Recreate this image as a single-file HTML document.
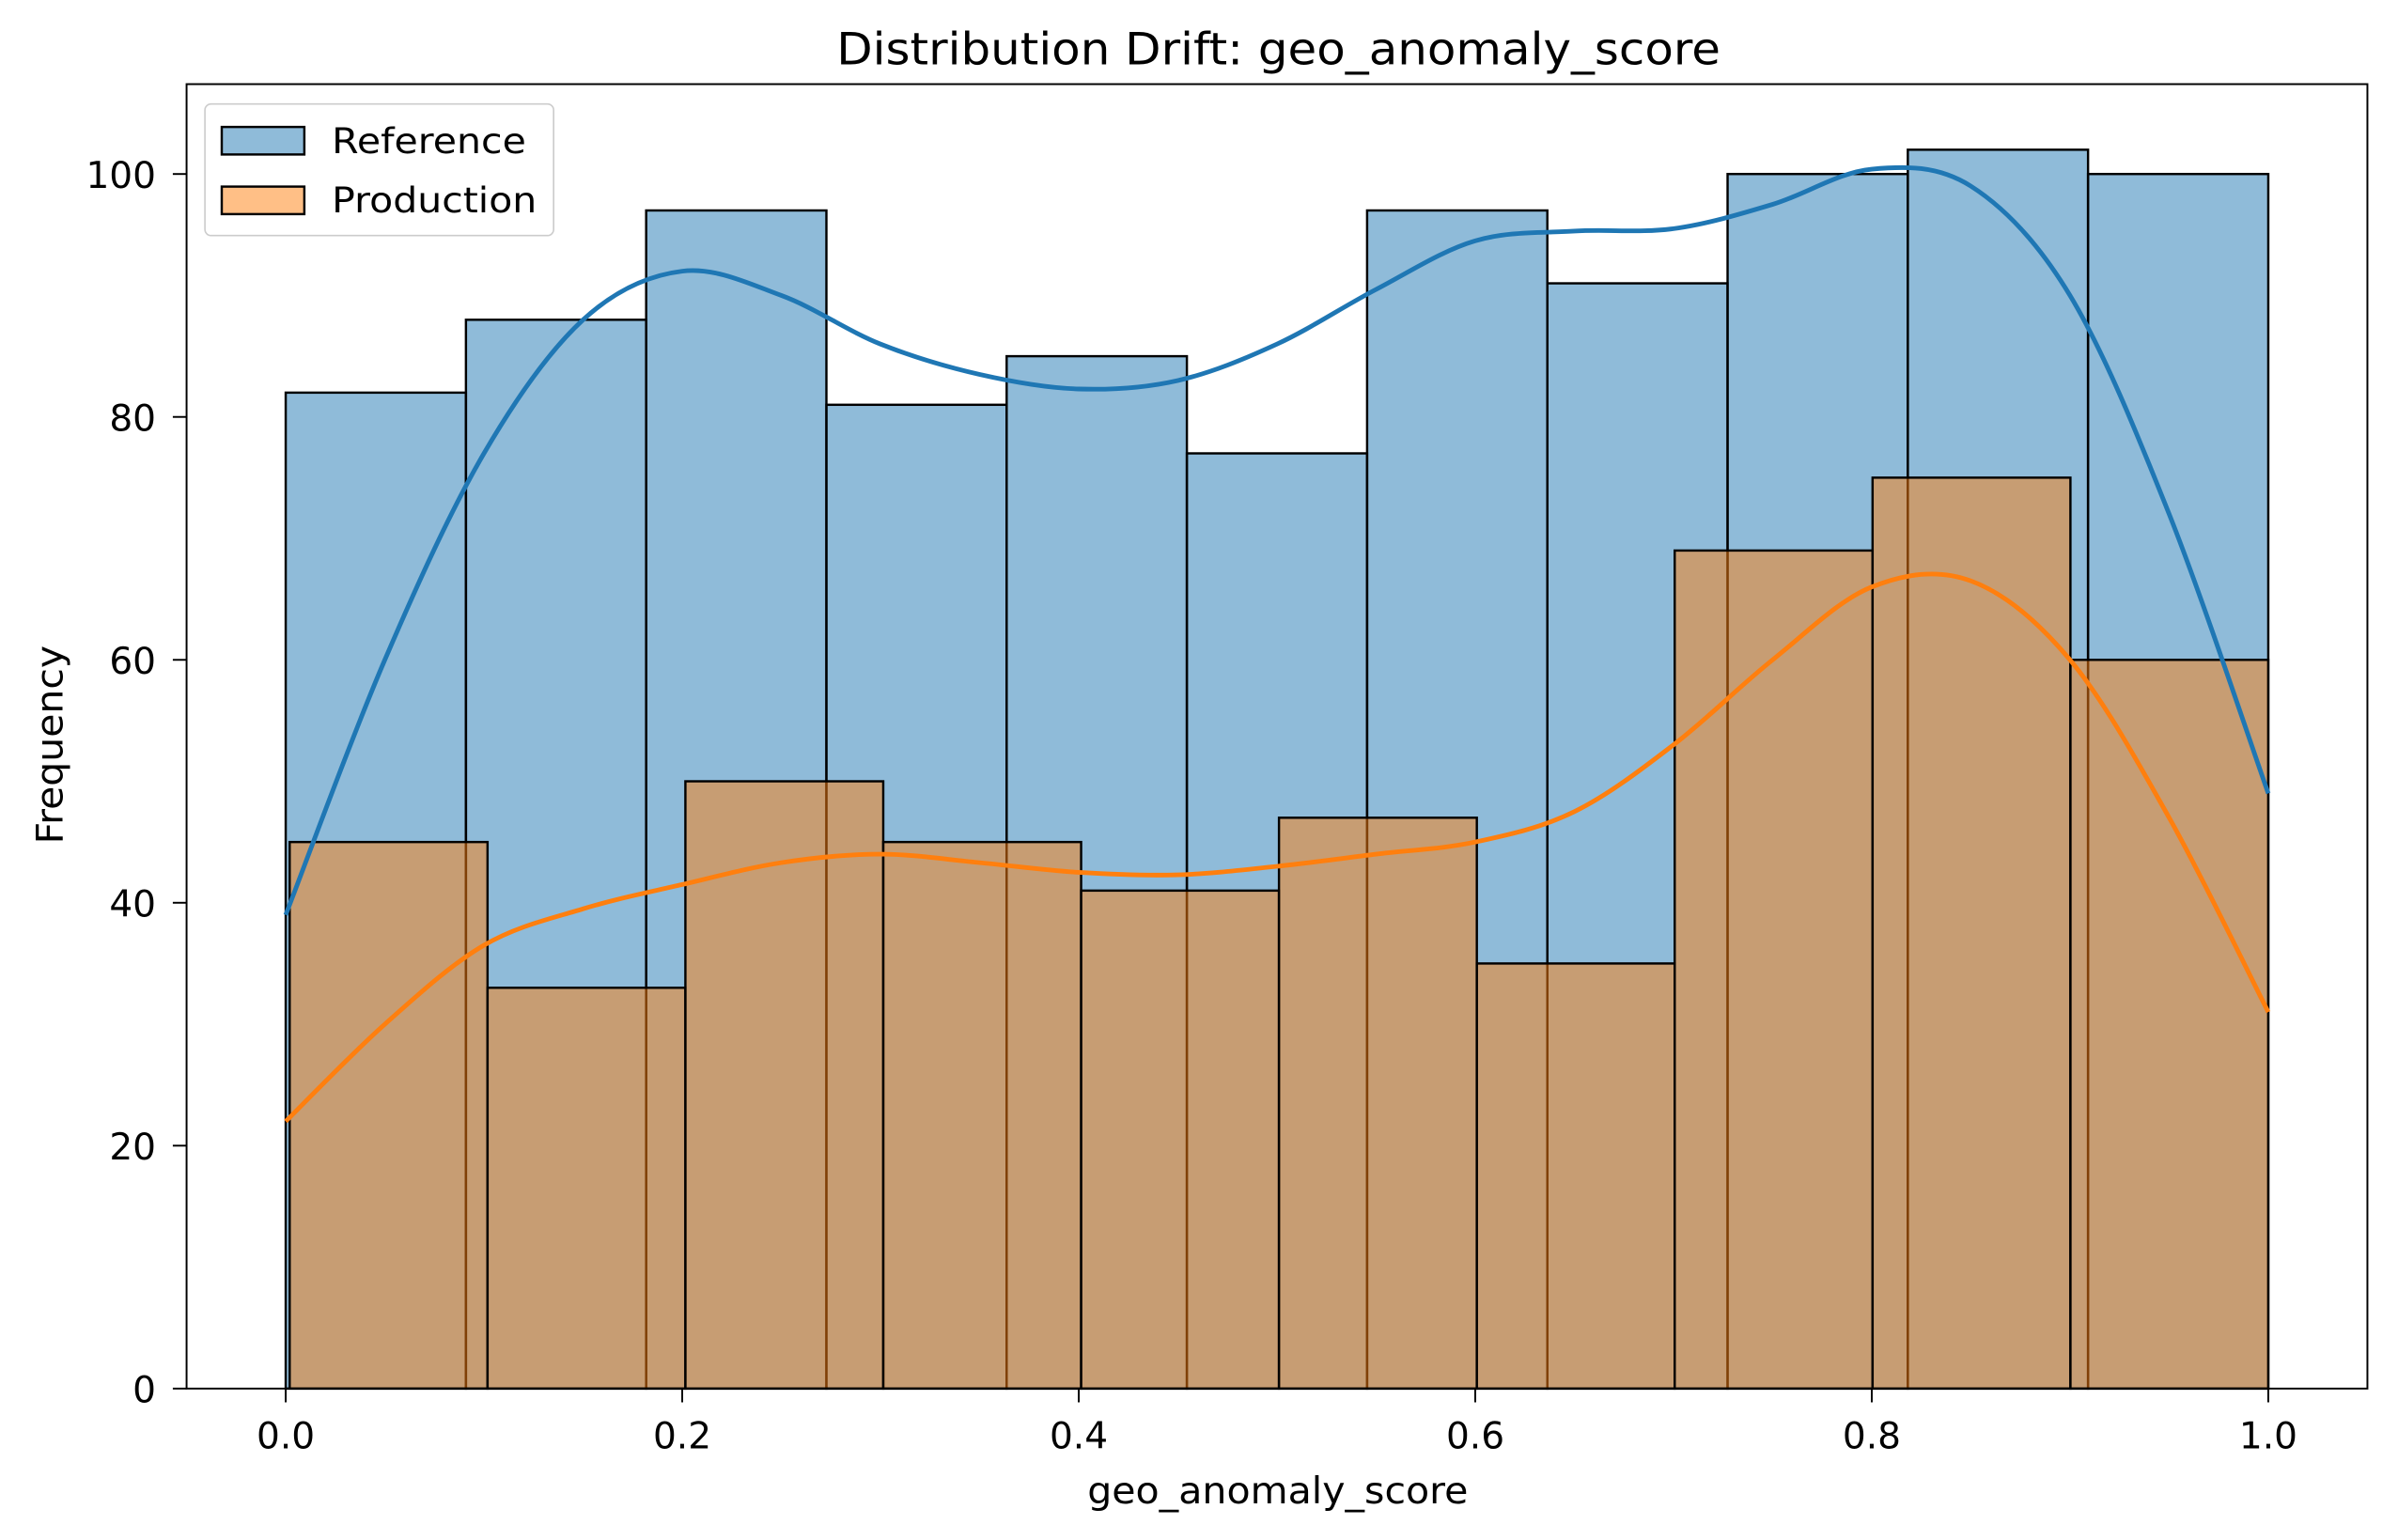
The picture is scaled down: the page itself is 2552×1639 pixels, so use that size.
<!DOCTYPE html>
<html><head><meta charset="utf-8"><style>
html,body{margin:0;padding:0;background:#fff;}
svg{display:block;font-family:"DejaVu Sans","Liberation Sans",sans-serif;}
</style></head><body>
<svg id="chart" width="2552" height="1639" viewBox="0 0 1568 1007" xmlns="http://www.w3.org/2000/svg">
<rect width="1568" height="1007" fill="#fff"/>
<g id="marks"></g>
<g id="axes"></g>
</svg>
<script>
const refCounts=[82,88,97,81,85,77,97,91,100,102,100];
const prodCounts=[45,33,50,45,41,47,35,69,75,60];
const prodStart=0.002, prodEnd=1.0;
const kdeX=[0,0.05,0.1,0.15,0.2,0.25,0.3,0.35,0.4,0.45,0.5,0.55,0.6,0.65,0.7,0.75,0.8,0.85,0.9,0.95,1.0];
const refKde=[39,60,77,88,92,90,86,83.5,82.3,83,86,90.5,94.5,95.3,95.5,97.5,100.4,99,90,72,49];
const prodKde=[22,30,36.5,39.5,41.5,43.3,44,43.3,42.5,42.3,43,44,45,47.5,53,60,66,66.5,60,47,31];
const xTicks=[0,0.2,0.4,0.6,0.8,1.0];
const xTickLabels=["0.0","0.2","0.4","0.6","0.8","1.0"];
const yTicks=[0,20,40,60,80,100];

const L=122,R=1548,T=55,B=908;
const xmin=-0.05,xmax=1.05,ymin=0,ymax=107.4;
const sx=v=>L+(v-xmin)/(xmax-xmin)*(R-L);
const sy=v=>B-(v-ymin)/(ymax-ymin)*(B-T);
const NS="http://www.w3.org/2000/svg";
const marks=document.getElementById('marks'),axes=document.getElementById('axes');
function mk(tag,attrs,parent){const e=document.createElementNS(NS,tag);for(const k in attrs)e.setAttribute(k,attrs[k]);parent.appendChild(e);return e;}

const rw=1/refCounts.length;
refCounts.forEach((c,i)=>{
 const r=mk('rect',{x:sx(i*rw),y:sy(c),width:sx((i+1)*rw)-sx(i*rw),height:sy(0)-sy(c),fill:'#1f77b4','fill-opacity':0.5,stroke:'#000','stroke-width':1.5},marks);
 
 
});
const pw=(prodEnd-prodStart)/prodCounts.length;
prodCounts.forEach((c,i)=>{
 const x0=prodStart+i*pw;
 const r=mk('rect',{x:sx(x0),y:sy(c),width:sx(x0+pw)-sx(x0),height:sy(0)-sy(c),fill:'#ff7f0e','fill-opacity':0.5,stroke:'#000','stroke-width':1.5},marks);
 
 
});
function smooth(xs,ys){
 const p=xs.map((x,i)=>[sx(x),sy(ys[i])]);
 let d='M'+p[0][0]+','+p[0][1];
 for(let i=0;i<p.length-1;i++){
  const p0=p[Math.max(0,i-1)],p1=p[i],p2=p[i+1],p3=p[Math.min(p.length-1,i+2)];
  const c1=[p1[0]+(p2[0]-p0[0])/6,p1[1]+(p2[1]-p0[1])/6];
  const c2=[p2[0]-(p3[0]-p1[0])/6,p2[1]-(p3[1]-p1[1])/6];
  d+=' C'+c1[0]+','+c1[1]+' '+c2[0]+','+c2[1]+' '+p2[0]+','+p2[1];
 }
 return d;
}
const k1=mk('path',{d:smooth(kdeX,refKde),fill:'none',stroke:'#1f77b4','stroke-width':3},marks);


const k2=mk('path',{d:smooth(kdeX,prodKde),fill:'none',stroke:'#ff7f0e','stroke-width':3},marks);



const fr=mk('rect',{x:L,y:T,width:R-L,height:B-T,fill:'none',stroke:'#000','stroke-width':1.2},axes);


xTicks.forEach((v,i)=>{
 mk('line',{x1:sx(v),x2:sx(v),y1:B,y2:B+9,stroke:'#000','stroke-width':1.2},axes);
 const t=mk('text',{x:sx(v),y:947,'text-anchor':'middle','font-size':24},axes);
 t.textContent=xTickLabels[i];
 
 
});
yTicks.forEach(v=>{
 mk('line',{x1:L-9,x2:L,y1:sy(v),y2:sy(v),stroke:'#000','stroke-width':1.2},axes);
 const t=mk('text',{x:102,y:sy(v)+9,'text-anchor':'end','font-size':24},axes);
 t.textContent=String(v);
 
 
});
const xt=mk('text',{x:711,y:983,'font-size':24,textLength:249,lengthAdjust:'spacingAndGlyphs'},axes);
xt.textContent='geo_anomaly_score';


const yt=mk('text',{x:0,y:0,'font-size':24,textLength:130,lengthAdjust:'spacingAndGlyphs',transform:'translate(41,552) rotate(-90)'},axes);
yt.textContent='Frequency';


const tt=mk('text',{x:547,y:42,'font-size':29,textLength:578,lengthAdjust:'spacingAndGlyphs'},axes);
tt.textContent='Distribution Drift: geo_anomaly_score';


const lg=mk('g',{},axes);


mk('rect',{x:134,y:68,width:228,height:86,rx:4,fill:'#fff','fill-opacity':0.8,stroke:'#ccc','stroke-width':1},lg);
const items=[['Reference','#1f77b4',83,127],['Production','#ff7f0e',122,134]];
items.forEach(([name,col,y,w])=>{
 const g=mk('g',{},lg);
 
 
 mk('rect',{x:145,y:y,width:54,height:18,fill:col,'fill-opacity':0.5,stroke:'#000','stroke-width':1.5},g);
 const t=mk('text',{x:217,y:y+17,'font-size':23,textLength:w,lengthAdjust:'spacingAndGlyphs'},g);
 t.textContent=name;
});
</script>
</body></html>
